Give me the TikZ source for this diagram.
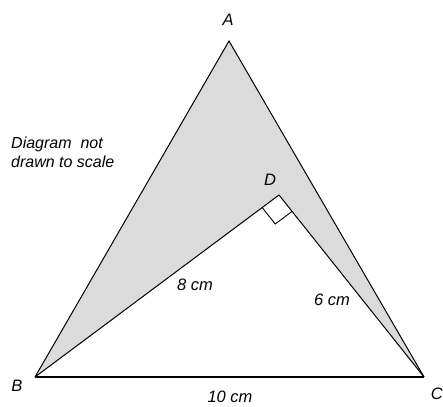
\documentclass[tikz,border=0pt]{standalone}
\usepackage{fontspec}
\setmainfont{Liberation Sans}
\usetikzlibrary{calc}
\begin{document}
\begin{tikzpicture}[x=1pt,y=-1pt,
  lbl/.style={font=\fontsize{16.5}{19}\selectfont\itshape, inner sep=0pt},
  edge/.style={line width=1pt, line join=miter}]
\useasboundingbox (0,0) rectangle (443,406);
\coordinate (A) at (229,41);
\coordinate (B) at (35,377);
\coordinate (C) at (424,377);
\coordinate (D) at (279,195);
\fill[gray!28] (A) -- (B) -- (D) -- (C) -- cycle;
\draw[edge] (B) -- (A) -- (C);
\draw[edge] (B) -- (D) -- (C);
\draw[line width=1.5pt] (B) -- (C);
\coordinate (P) at ($(D)!21pt!(B)$);
\coordinate (Q) at ($(D)!21pt!(C)$);
\coordinate (R) at ($(P)+(Q)-(D)$);
\draw[line width=0.9pt] (P) -- (R) -- (Q);
\node[lbl] (lA) at (228,20) {A};
\node[lbl] (lB) at (17,386) {B};
\node[lbl, anchor=east] (lC) at (443,394) {C};
\node[lbl] (lD) at (270,180) {D};
\node[lbl] (l8) at (195,285) {8 cm};
\node[lbl] (l6) at (332,300) {6 cm};
\node[lbl] (l10) at (230,397) {10 cm};
\node[lbl, anchor=north west, align=left, font=\fontsize{16}{19}\selectfont\itshape] (note) at (11,137) {Diagram\ \ not\\drawn to scale};
\end{tikzpicture}
\end{document}
